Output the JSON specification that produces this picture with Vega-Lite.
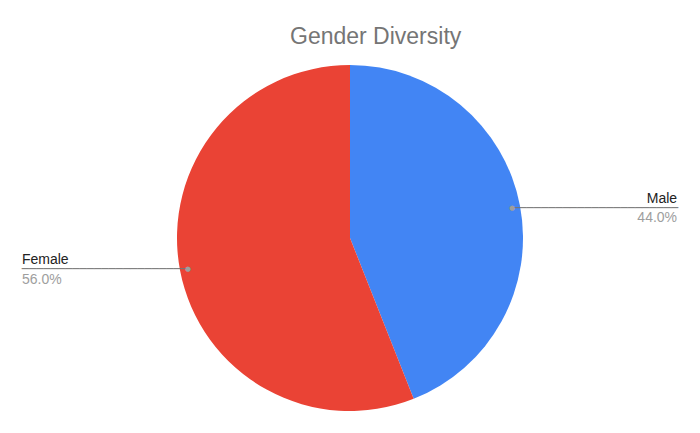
{
  "$schema": "https://vega.github.io/schema/vega-lite/v6.json",
  "width": 700,
  "height": 390,
  "autosize": "none",
  "padding": {"left": 0, "right": 0, "top": 43, "bottom": 0},
  "background": "white",
  "title": {
    "text": "Gender Diversity",
    "font": "Liberation Sans",
    "fontSize": 23,
    "fontWeight": "normal",
    "color": "#757575",
    "anchor": "start",
    "frame": "group",
    "dx": 290,
    "baseline": "alphabetic",
    "offset": -24
  },
  "data": {
    "values": [
      {"gender": "Male", "share": 44.0, "label": "44.0%"},
      {"gender": "Female", "share": 56.0, "label": "56.0%"}
    ]
  },
  "encoding": {
    "theta": {"field": "share", "type": "quantitative", "stack": true},
    "order": {"field": "gender", "sort": "descending"},
    "detail": {"field": "gender"}
  },
  "layer": [
    {
      "mark": {"type": "arc", "radius": 173},
      "encoding": {
        "color": {
          "field": "gender",
          "type": "nominal",
          "scale": {"domain": ["Male", "Female"], "range": ["#4285F4", "#EA4335"]},
          "legend": null
        }
      }
    },
    {
      "mark": {
        "type": "text",
        "radius": 165,
        "text": "───────────────────────",
        "font": "DejaVu Sans Mono",
        "fontSize": 12,
        "color": "#757575",
        "baseline": "alphabetic",
        "dy": 4.5,
        "align": {"expr": "datum.gender === 'Male' ? 'left' : 'right'"}
      }
    },
    {
      "mark": {
        "type": "text",
        "radius": 165,
        "text": "●",
        "font": "DejaVu Sans",
        "fontSize": 7,
        "color": "#9e9e9e",
        "baseline": "middle",
        "align": "center",
        "dy": 0.5
      }
    },
    {
      "mark": {
        "type": "text",
        "radius": 165,
        "font": "Liberation Sans",
        "fontSize": 14,
        "color": "#222222",
        "baseline": "alphabetic",
        "dy": -4.5,
        "dx": {"expr": "datum.gender === 'Male' ? 165 : -166"},
        "align": {"expr": "datum.gender === 'Male' ? 'right' : 'left'"}
      },
      "encoding": {"text": {"field": "gender"}}
    },
    {
      "mark": {
        "type": "text",
        "radius": 165,
        "font": "Liberation Sans",
        "fontSize": 14,
        "color": "#9e9e9e",
        "baseline": "alphabetic",
        "dy": 15,
        "dx": {"expr": "datum.gender === 'Male' ? 165 : -166"},
        "align": {"expr": "datum.gender === 'Male' ? 'right' : 'left'"}
      },
      "encoding": {"text": {"field": "label"}}
    }
  ]
}
